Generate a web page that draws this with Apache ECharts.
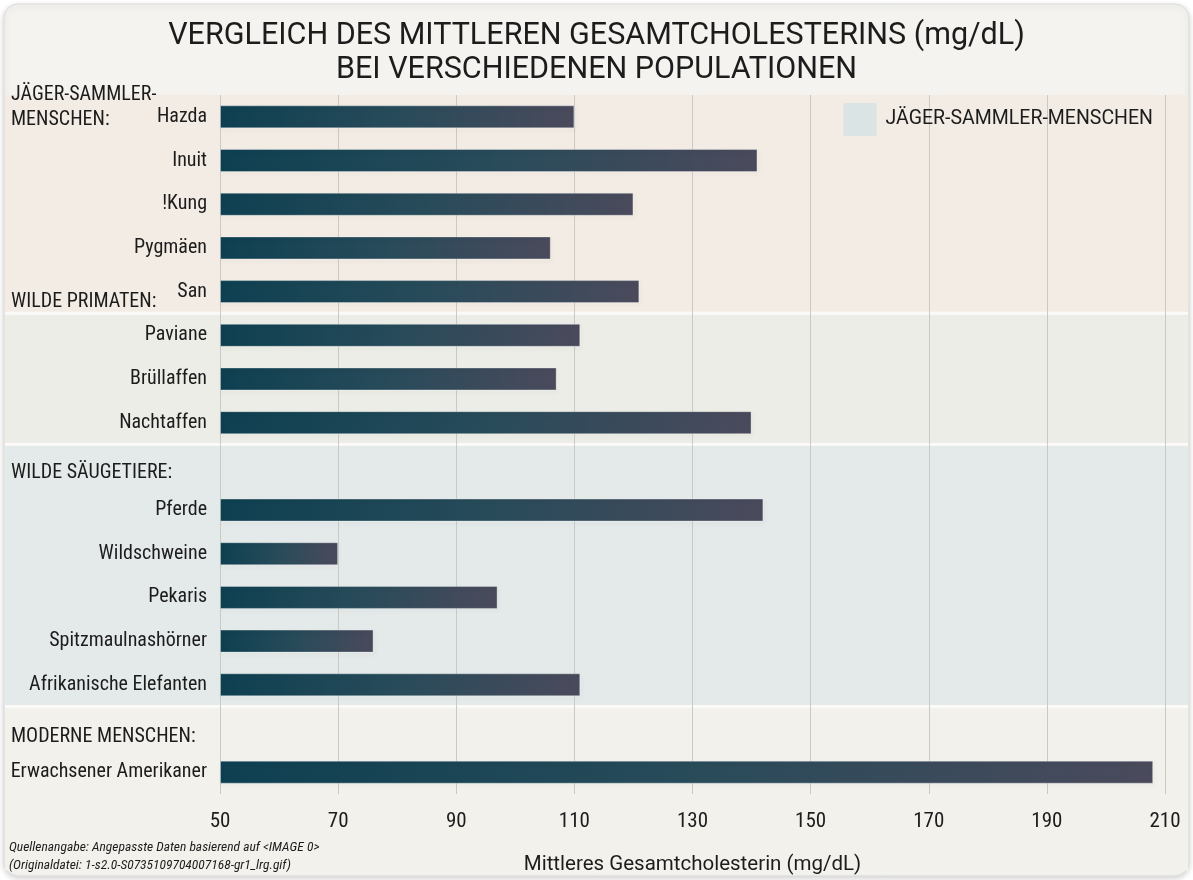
<!DOCTYPE html>
<html>
<head>
<meta charset="utf-8">
<script src="https://cdn.jsdelivr.net/npm/echarts@6/dist/echarts.min.js"></script>
<style>
  html, body { margin: 0; padding: 0; background: #ffffff; }
  #chart { width: 1193px; height: 880px; }
</style>
</head>
<body>
<div id="chart"></div>
<script>
// rows from top to bottom; the two header rows carry no bar
const categories = [
  "Hazda", "Inuit", "!Kung", "Pygmäen", "San",
  "Paviane", "Brüllaffen", "Nachtaffen",
  "WILDE SÄUGETIERE:",
  "Pferde", "Wildschweine", "Pekaris", "Spitzmaulnashörner", "Afrikanische Elefanten",
  "MODERNE MENSCHEN:",
  "Erwachsener Amerikaner"
];
const cholesterol = [110, 141, 120, 106, 121, 111, 107, 140, "-", 142, 70, 97, 76, 111, "-", 208];
const headerRows = ["WILDE SÄUGETIERE:", "MODERNE MENSCHEN:"];

const xMin = 50;
const xMax = 210;
const xStep = 20;

// background groups: first row, last row, colour, header text, header row and offset
const groupFrom = ["Hazda", "Paviane", "WILDE SÄUGETIERE:", "MODERNE MENSCHEN:"];
const groupTo = ["San", "Nachtaffen", "Afrikanische Elefanten", "Erwachsener Amerikaner"];
const groupColors = ["#f3ece4", "#ecede7", "#e4eae9", "#f3f1ec"];
const groupHeaders = ["JÄGER-SAMMLER-\nMENSCHEN:", "WILDE PRIMATEN:", "WILDE SÄUGETIERE:", "MODERNE MENSCHEN:"];
const headerAt = ["Hazda", "San", "WILDE SÄUGETIERE:", "MODERNE MENSCHEN:"];
const headerShift = [-22, 10, 7, 9];

const legendName = "JÄGER-SAMMLER-MENSCHEN";
const narrow = "'Roboto Condensed', 'Liberation Sans Narrow', Roboto, sans-serif";
const wide = "Roboto, 'Noto Sans', sans-serif";

const chart = echarts.init(document.getElementById("chart"));

const option = {
  backgroundColor: "transparent",
  animation: false,
  title: {
    text: "VERGLEICH DES MITTLEREN GESAMTCHOLESTERINS (mg/dL)\nBEI VERSCHIEDENEN POPULATIONEN",
    left: "center",
    top: 14,
    textStyle: {
      fontFamily: wide,
      fontWeight: "normal",
      fontSize: 30.5,
      lineHeight: 34,
      color: "#1c1c1c"
    }
  },
  legend: {
    data: [{ name: legendName, icon: "rect" }],
    right: 35,
    top: 98,
    itemWidth: 33,
    itemHeight: 33,
    textStyle: { fontFamily: wide, fontSize: 19.5, color: "#1c1c1c", padding: [0, 0, 0, 4] }
  },
  grid: { left: 220, right: 28, top: 95, bottom: 81, containLabel: false },
  xAxis: {
    type: "value",
    min: xMin,
    max: xMax,
    interval: xStep,
    startValue: xMin,
    name: "Mittleres Gesamtcholesterin (mg/dL)",
    nameLocation: "middle",
    nameGap: 60,
    nameTextStyle: { fontFamily: wide, fontSize: 20.5, color: "#1c1c1c" },
    axisLine: { show: false },
    axisTick: { show: false },
    axisLabel: { fontFamily: narrow, fontSize: 21, color: "#1c1c1c", margin: 17 },
    splitLine: { show: true, lineStyle: { color: "#c9c9c6", width: 1 } }
  },
  yAxis: {
    type: "category",
    inverse: true,
    data: categories,
    axisLine: { show: false },
    axisTick: { show: false },
    splitLine: { show: false },
    axisLabel: {
      fontFamily: narrow,
      fontSize: 20,
      color: "#1c1c1c",
      margin: 13,
      formatter: (v) => (headerRows.includes(v) ? "" : v)
    }
  },
  series: [
    {
      type: "bar",
      name: "Cholesterin",
      data: cholesterol,
      barWidth: 23,
      itemStyle: {
        color: new echarts.graphic.LinearGradient(0, 0, 1, 0, [
          { offset: 0, color: "#0e4051" },
          { offset: 0.5, color: "#284b5a" },
          { offset: 1, color: "#4a4a5c" }
        ]),
        borderColor: "rgba(255,255,255,0.18)",
        borderWidth: 1,
        shadowColor: "rgba(0,0,0,0.35)",
        shadowBlur: 4,
        shadowOffsetX: 1,
        shadowOffsetY: 2
      },
      z: 3
    },
    {
      type: "scatter",
      name: legendName,
      data: [],
      itemStyle: { color: "#d5e2e5" }
    }
  ]
};

chart.setOption(option);

function rowY(name) {
  return chart.convertToPixel({ yAxisIndex: 0 }, name);
}

const half = 22;
const graphics = [];

// outer card
graphics.push({
  type: "rect",
  z: -30,
  shape: { x: 4, y: 4, width: 1185, height: 872, r: 14 },
  style: {
    fill: "#f4f3ef",
    stroke: "#dcdbd7",
    lineWidth: 1,
    shadowColor: "rgba(0,0,0,0.18)",
    shadowBlur: 6,
    shadowOffsetY: 2
  }
});

groupFrom.forEach((from, i) => {
  const top = rowY(from) - half;
  const bottom = i === groupFrom.length - 1 ? 872 : rowY(groupTo[i]) + half;
  graphics.push({
    type: "rect",
    z: -20,
    shape: { x: 5, y: top + (i === 0 ? 0 : 1.5), width: 1183, height: bottom - top - (i === 0 ? 1.5 : 3) },
    style: { fill: groupColors[i] }
  });
  if (i > 0) {
    graphics.push({
      type: "rect",
      z: -19,
      shape: { x: 5, y: top - 1.5, width: 1183, height: 3 },
      style: { fill: "#fbfaf8" }
    });
  }
  graphics.push({
    type: "text",
    z: 10,
    left: 11,
    top: rowY(headerAt[i]) + headerShift[i] - 12.5,
    style: {
      text: groupHeaders[i],
      fontFamily: narrow,
      fontSize: 20,
      lineHeight: 25,
      fill: "#1c1c1c"
    }
  });
});

// source note
graphics.push({
  type: "text",
  z: 10,
  left: 9,
  top: 839,
  style: {
    text: "Quellenangabe: Angepasste Daten basierend auf <IMAGE 0>\n(Originaldatei: 1-s2.0-S0735109704007168-gr1_lrg.gif)",
    fontFamily: narrow,
    fontStyle: "italic",
    fontSize: 13.5,
    lineHeight: 18,
    fill: "#1c1c1c"
  }
});

chart.setOption({ graphic: graphics });
</script>
</body>
</html>
